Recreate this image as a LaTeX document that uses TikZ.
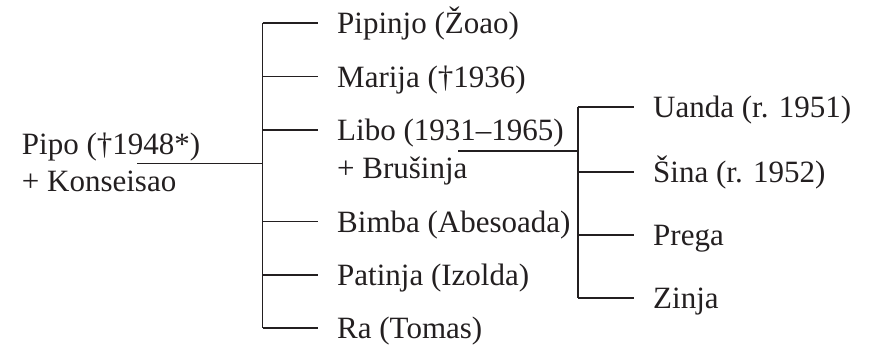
\documentclass[tikz,border=0pt]{standalone}
\usepackage{fontspec}
\setmainfont{Liberation Serif}
\definecolor{ink}{RGB}{35,31,32}
\begin{document}
\begin{tikzpicture}[x=1pt,y=-1pt,
  lbl/.style={anchor=base west,inner sep=0pt,text=ink,font=\fontsize{31}{37}\selectfont},
  conn/.style={draw=ink,line width=1.2pt},
  gap/.style={shorten >=19pt}]
\useasboundingbox (0,0) rectangle (872,345);
% root
\node[lbl] (pipo)  at (21.7,154) {Pipo (†1948*)};
\node[lbl] (pipob) at (21.7,191.7) {+ Konseisao};
% children
\node[lbl] (pipinjo) at (337,33.5) {Pipinjo (Žoao)};
\node[lbl] (marija)  at (337,87) {Marija (†1936)};
\node[lbl] (libo)    at (337,140.5) {Libo (1931–1965)};
\node[lbl] (libob)   at (337,178.5) {+ Brušinja};
\node[lbl] (bimba)   at (337,232.2) {Bimba (Abesoada)};
\node[lbl] (patinja) at (337,285.5) {Patinja (Izolda)};
\node[lbl] (ra)      at (337,338.5) {Ra (Tomas)};
% grandchildren
\node[lbl] (uanda) at (653,117.5) {Uanda (r. 1951)};
\node[lbl] (sina)  at (653,182.5) {Šina (r. 1952)};
\node[lbl] (prega) at (653,245.5) {Prega};
\node[lbl] (zinja) at (653,308.5) {Zinja};
% junction points
\coordinate (pipoJ) at (137,163.3);
\coordinate (trunk) at (262.7,163.3);
\coordinate (liboJ) at (458.3,151);
\coordinate (trunk2) at (578,151);
% helper points at row heights (10.5pt above baselines)
\foreach \n in {pipinjo,marija,libo,bimba,patinja,ra,uanda,sina,prega,zinja}
  \coordinate (\n-r) at ([yshift=10.5pt]\n.base west);
% connectors
\draw[conn] (pipoJ) -- (trunk);
\draw[conn] (pipinjo-r -| trunk) -- (ra-r -| trunk);
\foreach \n in {pipinjo,marija,libo,bimba,patinja,ra}
  \draw[conn,gap] (\n-r -| trunk) -- (\n-r);
\draw[conn] (liboJ) -- (trunk2);
\draw[conn] (uanda-r -| trunk2) -- (zinja-r -| trunk2);
\foreach \n in {uanda,sina,prega,zinja}
  \draw[conn,gap] (\n-r -| trunk2) -- (\n-r);
\end{tikzpicture}
\end{document}
